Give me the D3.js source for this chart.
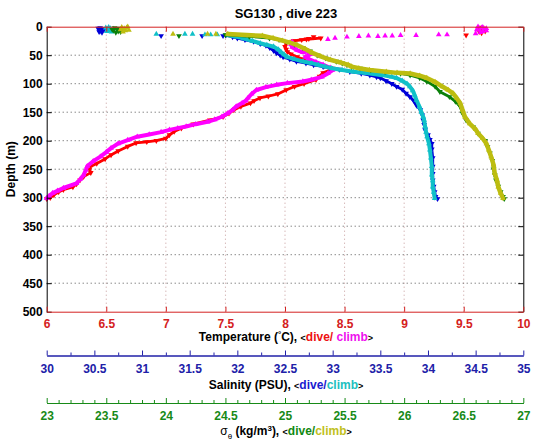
<!DOCTYPE html>
<html><head><meta charset="utf-8">
<script src="https://cdn.jsdelivr.net/npm/d3@7"></script>
<style>
body{margin:0;background:#fff}
svg{display:block}
text{font-family:'Liberation Sans',Arial,Helvetica,sans-serif;font-weight:bold}
</style>
</head><body>
<svg id="chart" width="535" height="442"></svg>
<script>
// ---------- DATA (depth m, value) ----------
// Temperature (°C)
const tempDiveSurface = [[1,9.65],[3,9.67],[5,9.64],[7,9.66],[9,9.63],[11,9.65],[4,9.62],[8,9.68],[15,9.52],[18,8.24],[21,8.2],[23,8.14]];
const tempClimbSurface = [[22,8.36],[20,8.42],[18,8.52],[17,8.62],[16,8.7],[17,8.78],[16,8.84],[16,8.9],[15,8.97],[15,9.1],[14,9.29],[14,9.36],[12,9.6],[10,9.64],[8,9.66],[6,9.63],[4,9.67],[2,9.65],[1,9.66],[3,9.69],[5,9.61],[7,9.69],[0,9.62]];
const tempDive = [[20,8.3],[22,8.18],[25,8.07],[29,8.01],[35,8.0],[40,8.01],[44,8.02],[48,8.05],[53,8.1],[57,8.15],[61,8.2],[65,8.26],[69,8.33],[73,8.4],[76,8.38],[81,8.32],[87,8.29],[93,8.26],[100,8.16],[105,8.08],[111,8.01],[118,7.94],[122,7.86],[125,7.79],[130,7.74],[134,7.71],[140,7.63],[146,7.57],[152,7.53],[158,7.48],[164,7.37],[171,7.23],[178,7.13],[184,7.07],[190,7.03],[196,7.0],[200,6.92],[202,6.84],[204,6.75],[210,6.68],[218,6.6],[225,6.54],[232,6.49],[240,6.42],[246,6.36],[250,6.36],[256,6.37],[263,6.31],[269,6.28],[276,6.25],[281,6.22],[286,6.14],[290,6.1],[295,6.06],[300,6.03],[302,6.0]];
const tempClimb = [[27,8.06],[31,8.05],[36,8.06],[41,8.1],[45,8.15],[43,8.2],[48,8.22],[53,8.17],[57,8.2],[62,8.26],[67,8.32],[72,8.38],[76,8.4],[82,8.36],[88,8.31],[93,8.22],[96,8.15],[99,8.02],[102,7.93],[106,7.84],[111,7.76],[118,7.72],[125,7.69],[130,7.67],[134,7.64],[140,7.59],[146,7.56],[152,7.52],[158,7.47],[163,7.41],[167,7.35],[171,7.25],[175,7.17],[178,7.1],[181,7.03],[185,6.96],[189,6.86],[193,6.76],[199,6.68],[205,6.6],[213,6.54],[220,6.5],[228,6.45],[236,6.39],[245,6.34],[251,6.33],[260,6.31],[268,6.28],[275,6.25],[283,6.14],[288,6.09],[292,6.05],[297,6.02],[301,6.0]];
// Salinity (PSU)
const salDiveSurface = [[2,30.56],[4,30.58],[6,30.55],[8,30.57],[10,30.58],[5,30.6],[3,30.54],[9,30.55],[16,31.2],[16,31.63],[16,31.85]];
const salClimbSurface = [[1,30.65],[3,30.67],[5,30.64],[7,30.66],[9,30.68],[4,30.7],[2,30.62],[8,30.63],[13,31.15],[13,31.45],[13,31.53],[14,31.66],[14,31.72],[14,31.79]];
const salDive = [[15,31.88],[18,31.95],[20,32.0],[23,32.08],[26,32.17],[30,32.24],[33,32.3],[37,32.34],[42,32.38],[46,32.41],[50,32.45],[53,32.48],[57,32.55],[61,32.62],[64,32.72],[67,32.8],[70,32.9],[72,32.97],[75,33.07],[79,33.18],[82,33.3],[85,33.39],[88,33.46],[90,33.5],[95,33.56],[100,33.62],[105,33.67],[110,33.73],[117,33.77],[123,33.81],[130,33.85],[138,33.88],[146,33.92],[155,33.94],[164,33.95],[172,33.96],[181,33.97],[190,34.0],[198,34.02],[205,34.04],[215,34.04],[230,34.05],[245,34.05],[258,34.05],[269,34.05],[280,34.06],[290,34.07],[298,34.08],[302,34.1]];
const salClimb = [[15,31.9],[17.5,31.99],[21,32.07],[25,32.16],[29,32.24],[32,32.31],[35,32.38],[40,32.43],[45,32.46],[49,32.49],[53,32.52],[57,32.6],[61,32.69],[64,32.78],[67,32.85],[70,32.92],[73,32.99],[76,33.1],[79,33.22],[82,33.39],[85,33.52],[88,33.62],[90,33.67],[95,33.73],[100,33.78],[105,33.81],[112,33.84],[120,33.86],[129,33.88],[140,33.91],[150,33.93],[158,33.95],[164,33.96],[175,33.97],[185,33.98],[193,33.99],[205,34.01],[216,34.02],[230,34.03],[245,34.04],[260,34.04],[270,34.05],[281,34.05],[290,34.06],[301,34.07]];
// Sigma-theta (kg/m^3)
const densDiveSurface = [[2,23.57],[4,23.59],[6,23.56],[8,23.6],[10,23.58],[5,23.55],[3,23.61],[9,23.62],[16,24.11]];
const densClimbSurface = [[1,23.63],[3,23.65],[5,23.62],[7,23.66],[9,23.64],[0,23.68],[2,23.67],[6,23.69],[13,24.06],[13,24.35],[13,24.42]];
const densDive = [[14.5,24.5],[17,24.7],[20,24.87],[23,24.95],[26,25.01],[31,25.08],[37,25.15],[43,25.21],[50,25.27],[55,25.34],[61,25.43],[64,25.48],[67,25.52],[70,25.56],[73,25.63],[76,25.72],[79,25.84],[82,25.97],[85,26.05],[90,26.13],[96,26.19],[105,26.26],[114,26.3],[123,26.38],[131,26.43],[140,26.47],[152,26.49],[164,26.52],[176,26.58],[187,26.62],[200,26.68],[211,26.7],[222,26.72],[235,26.74],[250,26.75],[260,26.76],[269,26.77],[280,26.79],[290,26.81],[298,26.83],[302,26.84]];
const densClimb = [[13,24.52],[16,24.81],[20,24.9],[24.5,24.98],[28,25.04],[32,25.1],[39,25.17],[46,25.23],[52,25.3],[58,25.38],[63,25.47],[67,25.53],[70,25.56],[73,25.62],[76,25.71],[79,25.85],[81,25.94],[82,26.05],[86,26.13],[90,26.19],[97,26.26],[105,26.32],[111,26.37],[117,26.41],[125,26.44],[134,26.47],[146,26.49],[158,26.51],[170,26.55],[180,26.6],[187,26.62],[196,26.66],[205,26.69],[216,26.71],[228,26.73],[242,26.75],[257,26.76],[270,26.78],[281,26.79],[292,26.81],[301,26.83]];

// ---------- TICKS ----------
const depthTicks = [0,50,100,150,200,250,300,350,400,450,500];
const tempTicks = [6,6.5,7,7.5,8,8.5,9,9.5,10];
const salTicks = [30,30.5,31,31.5,32,32.5,33,33.5,34,34.5,35];
const densTicks = [23,23.5,24,24.5,25,25.5,26,26.5,27];

// ---------- LAYOUT ----------
const svg = d3.select('#chart');
const L = 46.7, R = 523.3, T = 26.7, B = 311.7;
const yS = d3.scaleLinear().domain([0,500]).range([T,B]);
const xT = d3.scaleLinear().domain([6,10]).range([L,R]);
const xS = d3.scaleLinear().domain([30,35]).range([L,R]);
const xD = d3.scaleLinear().domain([23,27]).range([L,R]);
const fmt = d3.format('~g');

const cRedAxis = '#d42020', cBlueAxis = '#2020a8', cGreenAxis = '#178a17';

// grid
const grid = svg.append('g');
grid.selectAll('line.v').data(tempTicks.slice(1,-1)).join('line')
  .attr('x1', d=>xT(d)).attr('x2', d=>xT(d)).attr('y1', T).attr('y2', B)
  .attr('stroke', '#c49a9a').attr('stroke-width', 1).attr('stroke-dasharray', '1,3');
grid.selectAll('line.h').data(depthTicks.slice(1,-1)).join('line')
  .attr('x1', L).attr('x2', R).attr('y1', d=>yS(d)).attr('y2', d=>yS(d))
  .attr('stroke', '#555').attr('stroke-width', 1).attr('stroke-dasharray', '1,3');

// data
const sym = d3.symbol().type(d3.symbolTriangle).size(14);
function series(data, xs, color, dive, lw) {
  const g = svg.append('g');
  if (lw) {
    g.append('path').datum(data)
      .attr('d', d3.line().x(d=>xs(d[1])).y(d=>yS(d[0])))
      .attr('fill','none').attr('stroke', color).attr('stroke-width', lw)
      .attr('stroke-linejoin','round').attr('stroke-linecap','round');
  }
  g.selectAll('path.m').data(data).join('path')
    .attr('d', sym)
    .attr('transform', d=>`translate(${xs(d[1])},${yS(d[0])})${dive?' rotate(180)':''}`)
    .attr('fill', color);
}
const cRed='#ff0000', cMag='#ff00ff', cBlue='#0000d8', cCyan='#10c0c8', cGreen='#0a800a', cOlive='#bdbd10';
series(tempDive, xT, cRed, true, 2.8);
series(tempDiveSurface, xT, cRed, true, 0);
series(tempClimb, xT, cMag, false, 4);
series(tempClimbSurface, xT, cMag, false, 0);
series(salDive, xS, cBlue, true, 2.8);
series(salDiveSurface, xS, cBlue, true, 0);
series(salClimb, xS, cCyan, false, 4);
series(salClimbSurface, xS, cCyan, false, 0);
series(densDive, xD, cGreen, true, 2.8);
series(densDiveSurface, xD, cGreen, true, 0);
series(densClimb, xD, cOlive, false, 4.5);
series(densClimbSurface, xD, cOlive, false, 0);

// axes box
const styleAxis = (g, color) => {
  g.selectAll('path,line').attr('stroke', color);
  g.selectAll('text').attr('fill', color).style('font-size','12px');
};
const gL = svg.append('g').attr('transform',`translate(${L},0)`)
  .call(d3.axisLeft(yS).tickValues(depthTicks).tickSize(-5).tickSizeOuter(0).tickPadding(4).tickFormat(fmt));
styleAxis(gL, '#000');
const gR = svg.append('g').attr('transform',`translate(${R},0)`)
  .call(d3.axisRight(yS).tickValues(depthTicks).tickSize(-5).tickSizeOuter(0).tickFormat(''));
styleAxis(gR, '#000');
const gTop = svg.append('g').attr('transform',`translate(0,${T})`)
  .call(d3.axisTop(xT).tickValues(tempTicks).tickSize(-5).tickSizeOuter(0).tickFormat(''));
styleAxis(gTop, cRedAxis);
const gB = svg.append('g').attr('transform',`translate(0,${B})`)
  .call(d3.axisBottom(xT).tickValues(tempTicks).tickSize(-5).tickSizeOuter(0).tickPadding(7.5).tickFormat(fmt));
styleAxis(gB, cRedAxis);
gL.selectAll('text').attr('fill','#000');

// salinity axis
const ySal = 355.5;
const gSm = svg.append('g').attr('transform',`translate(0,${ySal})`)
  .call(d3.axisBottom(xS).tickValues(d3.range(30.25,35,0.5)).tickSize(-3).tickSizeOuter(0).tickFormat(''));
styleAxis(gSm, cBlueAxis);
const gS = svg.append('g').attr('transform',`translate(0,${ySal})`)
  .call(d3.axisBottom(xS).tickValues(salTicks).tickSize(-5).tickSizeOuter(0).tickPadding(8.5).tickFormat(fmt));
styleAxis(gS, cBlueAxis);

// density axis
const yDen = 403;
const gDm = svg.append('g').attr('transform',`translate(0,${yDen})`)
  .call(d3.axisBottom(xD).tickValues(d3.range(23.1,27,0.1).filter(v=>Math.abs(v*2-Math.round(v*2))>0.01)).tickSize(-3).tickSizeOuter(0).tickFormat(''));
styleAxis(gDm, cGreenAxis);
const gD = svg.append('g').attr('transform',`translate(0,${yDen})`)
  .call(d3.axisBottom(xD).tickValues(densTicks).tickSize(-5).tickSizeOuter(0).tickPadding(8).tickFormat(fmt));
styleAxis(gD, cGreenAxis);

// titles
const cx = (L+R)/2 + 1;
svg.append('text').attr('x', cx).attr('y', 18).attr('text-anchor','middle')
  .style('font-size','13px').attr('fill','#000').text('SG130 , dive 223');

svg.append('text').attr('transform',`translate(14.5,${(T+B)/2}) rotate(-90)`).attr('text-anchor','middle')
  .style('font-size','12px').attr('fill','#000').text('Depth (m)');

function richTitle(y, parts) {
  const t = svg.append('text').attr('x', cx).attr('y', y).attr('text-anchor','middle')
    .style('font-size','12px').attr('fill','#000');
  parts.forEach(p => {
    const s = t.append('tspan').text(p.t);
    if (p.c) s.attr('fill', p.c);
    if (p.fs) s.style('font-size', p.fs);
    if (p.dy) s.attr('dy', p.dy);
    if (p.fw) s.style('font-weight', p.fw);
  });
}
richTitle(341, [
  {t:'Temperature ('}, {t:'°', fs:'8px', dy:'-4'}, {t:'C), ', dy:'4'},
  {t:'<', fs:'9px'}, {t:'dive/', c:'#ee1111'}, {t:' climb', c:'#ee11ee'}, {t:'>', fs:'9px'}
]);
richTitle(389, [
  {t:'Salinity (PSU), '}, {t:'<', fs:'9px'}, {t:'dive/', c:'#1a1ad0'}, {t:'climb', c:'#20c0c0'}, {t:'>', fs:'9px'}
]);
richTitle(435, [
  {t:'σ', fw:'normal'}, {t:'θ', fs:'8px', dy:'4', fw:'normal'}, {t:' (kg/m', dy:'-4'}, {t:'3', fs:'8px', dy:'-4'},
  {t:'), ', dy:'4'}, {t:'<', fs:'9px'}, {t:'dive/', c:'#118811'}, {t:'climb', c:'#c0c020'}, {t:'>', fs:'9px'}
]);
</script>
</body></html>
